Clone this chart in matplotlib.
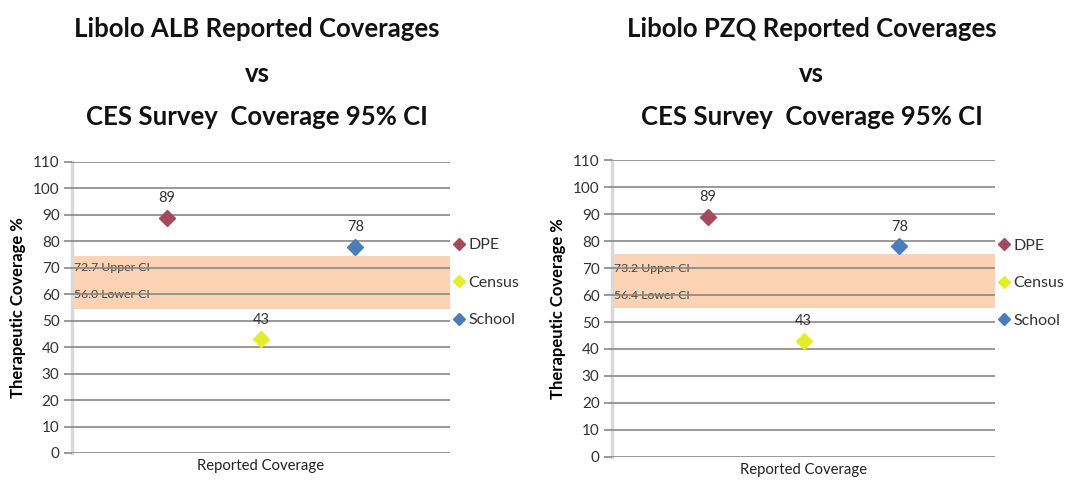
import matplotlib.pyplot as plt
from matplotlib.lines import Line2D

plt.rcParams['font.family'] = ['Lato', 'DejaVu Sans']

# data
series = ['DPE', 'Census', 'School']
alb_values = [89, 43, 78]
pzq_values = [89, 43, 78]
alb_ci = (56.0, 72.7)
pzq_ci = (56.4, 73.2)
# shaded band as drawn in the original (slightly wider than the CI)
alb_band = (54.5, 74.3)
pzq_band = (55.2, 75.2)
yticks = list(range(0, 111, 10))

colors = ['#A24A5E', '#E2EE2C', '#4A7EBB']
band_color = '#FBD3B4'
grid_color = '#878787'

fig = plt.figure(figsize=(10.85, 4.82), dpi=100)

panels = [
    dict(rect=[0.0664, 0.0602, 0.3483, 0.6038], name='ALB', values=alb_values,
         ci=alb_ci, band=alb_band, title_x=0.237),
    dict(rect=[0.5641, 0.0519, 0.3530, 0.6161], name='PZQ', values=pzq_values,
         ci=pzq_ci, band=pzq_band, title_x=0.748),
]

for p in panels:
    ax = fig.add_axes(p['rect'])
    ax.set_xlim(0, 4)
    ax.set_ylim(0, 110)
    ax.set_yticks(yticks)
    ax.set_xticks([])
    for s in ['top', 'right', 'bottom']:
        ax.spines[s].set_visible(False)
    ax.spines['left'].set_color('#D9D9D9')
    ax.spines['left'].set_linewidth(2.5)
    ax.yaxis.grid(True, color=grid_color, lw=1.2, zorder=2)
    ax.set_axisbelow(False)
    ax.tick_params(axis='y', direction='out', length=6, width=1.2, color=grid_color,
                   labelsize=11, labelcolor='#333333', pad=3)

    ax.axhspan(p['band'][0], p['band'][1], color=band_color, zorder=1, lw=0)
    ax.text(0.02, 70, f"{p['ci'][1]:.1f} Upper CI", fontsize=8.8, color='#444444',
            va='center', ha='left', zorder=1.5)
    ax.text(0.02, 60, f"{p['ci'][0]:.1f} Lower CI", fontsize=8.8, color='#444444',
            va='center', ha='left', zorder=1.5)

    for i, (name, val) in enumerate(zip(series, p['values'])):
        ax.plot(i + 1, val, marker='D', ms=8, color=colors[i], ls='none', zorder=4,
                mec=colors[i])
        ax.annotate(str(val), (i + 1, val), xytext=(0, 9), textcoords='offset points',
                    ha='center', va='bottom', fontsize=10.5, color='#333333')

    handles = [Line2D([], [], marker='D', ms=6.5, color=c, ls='none') for c in colors]
    leg = ax.legend(handles, series, loc='center left', bbox_to_anchor=(0.99, 0.585),
                    frameon=False, fontsize=11.5, handlelength=0.6, handletextpad=0.3,
                    labelspacing=1.45, borderpad=0)
    for t in leg.get_texts():
        t.set_color('#333333')

    ax.set_ylabel('Therapeutic Coverage %', fontsize=12, fontweight='bold', labelpad=5)
    ax.set_xlabel('Reported Coverage', fontsize=10.7, labelpad=4, color='#222222')

    fig.text(p['title_x'], 0.94, f"Libolo {p['name']} Reported Coverages", ha='center',
             va='center', fontsize=18.5, fontweight='bold', color='#111111')
    fig.text(p['title_x'], 0.847, 'vs', ha='center', va='center', fontsize=18.5,
             fontweight='bold', color='#111111')
    fig.text(p['title_x'], 0.757, 'CES Survey  Coverage 95% CI', ha='center',
             va='center', fontsize=18.5, fontweight='bold', color='#111111')

fig.savefig('out.png', dpi=100)
